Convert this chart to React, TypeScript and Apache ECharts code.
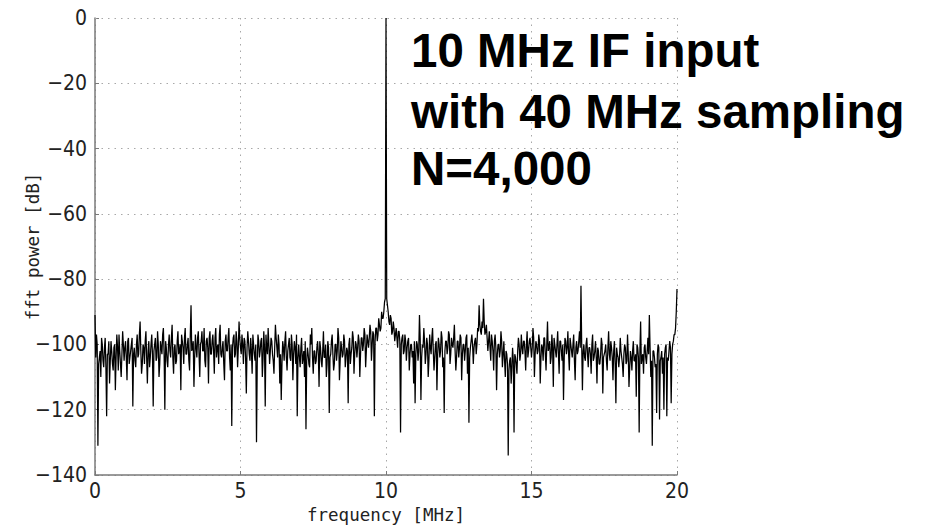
import React, { useEffect, useRef } from "react";
import * as echarts from "echarts";

// FFT bin spacing (MHz) of the plotted points; "A" bins at k*0.05, "B" bins at k*0.05+0.025
const FREQ_STEP = 0.05;

// fft power [dB], A bins 0 – 4.95 MHz
const power0to5A = [
  -91, -97, -131, -104, -110, -100, -107, -98, -122, -103, -112, -99, -106, -101, -114, -97, -108, -102, -110, -96,
  -105, -99, -111, -98, -104, -100, -119, -101, -107, -97, -103, -93, -109, -100, -106, -96, -112, -99, -104, -97,
  -119, -100, -105, -96, -110, -99, -103, -95, -120, -101, -107, -97, -104, -94, -109, -100, -105, -96, -102, -114,
  -99, -106, -95, -103, -98, -108, -88, -101, -113, -97, -104, -96, -110, -99, -102, -95, -107, -98, -112, -96,
  -103, -97, -109, -95, -101, -106, -94, -104, -99, -111, -97, -102, -95, -108, -125, -98, -104, -96, -107, -93,
];
const power0to5B = [
  -104, -100, -106, -102, -98, -105, -101, -107, -103, -99, -105, -102, -108, -100, -104, -101, -97, -106, -103, -100,
  -101, -104, -99, -106, -102, -98, -103, -105, -100, -104, -97, -102, -106, -101, -99, -104, -102, -107, -100, -103,
  -102, -98, -104, -100, -106, -101, -97, -103, -99, -105, -100, -102, -98, -104, -101, -106, -99, -103, -100, -97,
  -101, -98, -103, -100, -105, -97, -102, -99, -104, -101, -98, -103, -100, -96, -102, -105, -99, -101, -98, -103,
  -99, -102, -98, -104, -100, -97, -103, -101, -106, -99, -102, -98, -104, -100, -101, -97, -103, -99, -101, -98,
];
// 5 – 10 MHz
const power5to10A = [
  -101, -97, -106, -99, -115, -96, -103, -98, -109, -100, -105, -130, -97, -104, -99, -110, -96, -119, -101, -95,
  -106, -98, -103, -109, -94, -101, -97, -112, -117, -99, -105, -96, -108, -100, -104, -97, -111, -99, -106, -122,
  -100, -107, -98, -104, -110, -126, -101, -106, -97, -95, -109, -102, -105, -99, -113, -101, -107, -96, -104, -110,
  -99, -121, -103, -97, -108, -100, -105, -95, -111, -99, -104, -97, -107, -101, -118, -98, -103, -96, -109, -99,
  -104, -97, -110, -98, -102, -95, -107, -97, -101, -94, -105, -96, -122, -95, -99, -92, -96, -90, -92, -87,
];
const power5to10B = [
  -103, -100, -98, -104, -101, -99, -105, -102, -97, -103, -100, -106, -99, -102, -98, -104, -101, -97, -103, -100,
  -102, -99, -105, -101, -98, -104, -100, -103, -106, -101, -99, -104, -102, -98, -105, -100, -103, -101, -97, -104,
  -104, -101, -106, -102, -99, -105, -103, -107, -100, -104, -102, -106, -101, -103, -99, -105, -102, -104, -100, -106,
  -101, -104, -99, -103, -106, -100, -102, -98, -105, -101, -103, -99, -104, -102, -100, -106, -101, -98, -103, -100,
  -101, -99, -103, -98, -100, -97, -102, -99, -98, -96, -100, -97, -99, -95, -97, -94, -95, -92, -90, -86,
];
// 10 – 15 MHz (carrier at 10 MHz)
const power10to15A = [
  0, -88, -93, -91, -97, -93, -99, -95, -101, -96, -127, -98, -103, -97, -105, -99, -108, -100, -104, -112,
  -118, -99, -105, -91, -117, -100, -95, -106, -98, -110, -97, -103, -95, -108, -100, -114, -98, -104, -96, -107,
  -121, -99, -103, -96, -106, -98, -101, -94, -108, -99, -104, -97, -111, -100, -105, -98, -109, -124, -101, -97,
  -106, -99, -103, -95, -88, -96, -93, -86, -97, -94, -102, -96, -105, -99, -108, -97, -114, -100, -104, -96,
  -107, -99, -110, -103, -134, -105, -112, -101, -127, -104, -109, -98, -105, -97, -103, -99, -108, -96, -102, -98,
];
const power10to15B = [
  -86, -90, -94, -92, -96, -95, -97, -98, -96, -99, -100, -97, -102, -99, -101, -98, -103, -100, -102, -99,
  -103, -100, -102, -98, -104, -101, -99, -103, -100, -105, -101, -98, -102, -104, -99, -103, -100, -102, -98, -104,
  -102, -99, -101, -97, -103, -100, -98, -102, -104, -99, -101, -98, -103, -100, -102, -97, -101, -104, -99, -100,
  -101, -98, -100, -96, -94, -97, -95, -93, -96, -98, -99, -101, -97, -102, -99, -101, -103, -100, -102, -99,
  -103, -105, -102, -106, -108, -104, -107, -105, -103, -106, -102, -100, -103, -101, -99, -102, -100, -104, -99, -101,
];
// 15 – 20 MHz (A bins include the 20 MHz end point)
const power15to20A = [
  -104, -95, -110, -99, -103, -97, -112, -100, -105, -98, -108, -93, -101, -106, -97, -113, -100, -104, -96, -109,
  -99, -105, -117, -98, -103, -96, -108, -100, -104, -97, -111, -99, -102, -96, -82, -114, -100, -105, -98, -107,
  -101, -109, -97, -104, -99, -112, -102, -106, -98, -115, -103, -100, -108, -96, -105, -101, -111, -99, -118, -103,
  -107, -98, -104, -110, -100, -106, -97, -113, -102, -108, -99, -105, -116, -101, -127, -93, -104, -109, -100, -106,
  -98, -91, -110, -131, -102, -107, -121, -100, -123, -104, -109, -120, -101, -122, -105, -99, -118, -100, -97, -95,
  -83,
];
const power15to20B = [
  -101, -98, -103, -100, -102, -99, -104, -101, -98, -103, -100, -102, -99, -104, -101, -98, -102, -100, -103, -99,
  -102, -100, -104, -99, -101, -103, -98, -102, -100, -105, -101, -103, -99, -101, -100, -102, -104, -100, -103, -101,
  -103, -100, -105, -102, -104, -101, -106, -103, -100, -104, -102, -105, -101, -103, -99, -104, -102, -106, -101, -104,
  -104, -102, -106, -103, -101, -105, -103, -107, -104, -102, -105, -103, -100, -104, -102, -106, -103, -101, -104, -102,
  -103, -101, -105, -102, -104, -106, -103, -101, -105, -102, -104, -103, -100, -104, -102, -101, -103, -99, -97, -90,
];

const xTicks = { min: 0, max: 20, interval: 5 };
const yTicks = { min: -140, max: 0, interval: 20 };
const annotationLines = ["10 MHz IF input", "with 40 MHz sampling", "N=4,000"];

export default function App() {
  const ref = useRef<HTMLDivElement>(null);

  useEffect(() => {
    if (!ref.current) return;
    const chart = echarts.init(ref.current, undefined, { renderer: "svg" });
    const A = [...power0to5A, ...power5to10A, ...power10to15A, ...power15to20A];
    const B = [...power0to5B, ...power5to10B, ...power10to15B, ...power15to20B];
    const data: number[][] = [];
    A.forEach((p, i) => {
      data.push([+(i * FREQ_STEP).toFixed(3), p]);
      if (i < B.length) data.push([+(i * FREQ_STEP + FREQ_STEP / 2).toFixed(3), B[i]]);
    });

    const tickFont = '"Liberation Sans Narrow", "Arial Narrow", "DejaVu Sans Condensed", sans-serif';
    const monoFont = '"DejaVu Sans Mono", "Liberation Mono", monospace';
    const splitLineStyle = { color: "#a8a8a8", width: 1, type: [1.5, 5] as any };
    const axisLine = { show: true, onZero: false, lineStyle: { color: "#7a7a7a", width: 1.5 } };
    const axisTick = { show: true, inside: true, length: 4, lineStyle: { color: "#7a7a7a" } };
    const fmt = (v: number) => String(v).replace("-", "\u2212");

    chart.setOption({
      animation: false,
      backgroundColor: "#ffffff",
      grid: { left: 95, top: 18, width: 582, height: 457, containLabel: false },
      xAxis: {
        type: "value",
        ...xTicks,
        name: "frequency [MHz]",
        nameLocation: "middle",
        nameGap: 31,
        nameMoveOverlap: false,
        nameTextStyle: { fontFamily: monoFont, fontSize: 17.5, color: "#222" },
        axisLine,
        axisTick,
        axisLabel: { fontFamily: tickFont, fontSize: 21, color: "#222", margin: 5, formatter: fmt },
        splitLine: { show: true, lineStyle: splitLineStyle },
      },
      yAxis: {
        type: "value",
        ...yTicks,
        name: "fft power [dB]",
        nameLocation: "middle",
        nameGap: 53,
        nameMoveOverlap: false,
        nameTextStyle: { fontFamily: monoFont, fontSize: 17.5, color: "#222" },
        axisLine,
        axisTick,
        axisLabel: { fontFamily: tickFont, fontSize: 21, color: "#222", margin: 8, formatter: fmt },
        splitLine: { show: true, showMaxLine: false, lineStyle: splitLineStyle },
      },
      series: [
        {
          type: "line",
          data,
          showSymbol: false,
          symbol: "none",
          lineStyle: { color: "#000000", width: 1.25 },
          z: 3,
          markLine: {
            silent: true,
            symbol: "none",
            animation: false,
            label: { show: false },
            lineStyle: { ...splitLineStyle },
            data: [{ yAxis: yTicks.max }],
            z: 1,
          },
        },
      ],
      graphic: annotationLines.map((t, i) => ({
        type: "text",
        x: 411,
        y: [50, 111, 168][i],
        z: 10,
        style: {
          text: t,
          font: 'bold 47.5px "Liberation Sans", Arial, Helvetica, sans-serif',
          fill: "#000",
          verticalAlign: "middle",
          align: "left",
        },
      })),
    });
    return () => chart.dispose();
  }, []);

  return (
    <div
      ref={ref}
      style={{ position: "fixed", left: 0, top: 0, width: 928, height: 529 }}
    />
  );
}
